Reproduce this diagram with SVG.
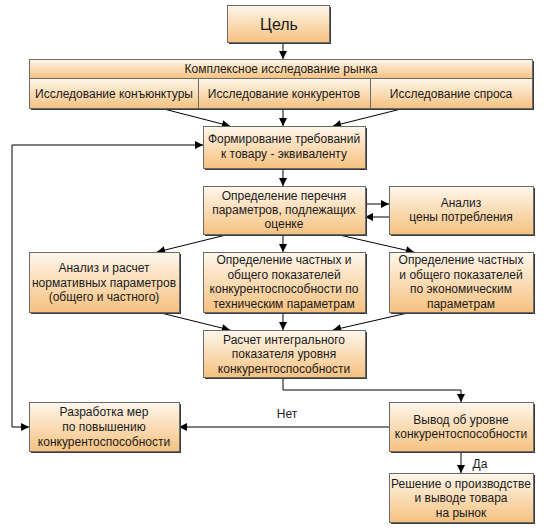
<svg xmlns="http://www.w3.org/2000/svg" width="546" height="530" viewBox="0 0 546 530">
<defs>
<linearGradient id="g" x1="0" y1="0" x2="0" y2="1">
<stop offset="0" stop-color="#fef7ec"/>
<stop offset="1" stop-color="#f6c17f"/>
</linearGradient>
<marker id="a" viewBox="0 0 10 10" refX="10" refY="5" markerWidth="10" markerHeight="8" markerUnits="userSpaceOnUse" orient="auto-start-reverse">
<path d="M0,0 L10,5 L0,10 Z" fill="#000"/>
</marker>
<style>
.sh{fill:#3a3a3a}
.bx{fill:url(#g);stroke:#6a6a6a;stroke-width:1}
text{font-family:"Liberation Sans",Arial,sans-serif;font-size:12px;fill:#1a1a1a;text-anchor:middle}
.c{fill:none;stroke:#000;stroke-width:1}
.ar{marker-end:url(#a)}
</style>
</defs>
<rect width="546" height="530" fill="#fff"/>

<g id="connectors">
<path class="c ar" d="M283,43 V59"/>
<path class="c ar" d="M283,108 V126"/>
<path class="c ar" d="M160,108 L230,126"/>
<path class="c ar" d="M405,108 L333,126"/>
<path class="c ar" d="M283,168 V186"/>
<path class="c ar" d="M365,204 H389"/>
<path class="c ar" d="M389,217 H365"/>
<path class="c ar" d="M283,234 V252"/>
<path class="c ar" d="M230,234 L157,252"/>
<path class="c ar" d="M335,234 L414,252"/>
<path class="c ar" d="M157,312 L230,330"/>
<path class="c ar" d="M283,312 V330"/>
<path class="c ar" d="M412,312 L333,330"/>
<path class="c ar" d="M283,377 V390 H461 V402"/>
<path class="c ar" d="M389,427 H179"/>
<path class="c ar" d="M461,451 V473"/>
<path class="c ar" d="M203,145 H12 V427 H29" style="marker-start:url(#a)"/>
<text x="287" y="418">Нет</text>
<text x="480" y="468">Да</text>
</g>

<g id="goal">
<rect class="sh" x="229" y="7" width="102" height="37"/>
<rect class="bx" x="227.5" y="5.5" width="102" height="37"/>
<text x="279" y="30" style="font-size:16px">Цель</text>
</g>

<g id="market">
<rect class="sh" x="31" y="61" width="503" height="49"/>
<rect class="bx" x="29.5" y="59.5" width="503" height="19"/>
<rect class="bx" x="29.5" y="78.5" width="169" height="30"/>
<rect class="bx" x="198.5" y="78.5" width="172" height="30"/>
<rect class="bx" x="370.5" y="78.5" width="162" height="30"/>
<text x="281" y="73">Комплексное исследование рынка</text>
<text x="114" y="98">Исследование конъюнктуры</text>
<text x="284" y="98">Исследование конкурентов</text>
<text x="451" y="98">Исследование спроса</text>
</g>

<g id="requirements">
<rect class="sh" x="205" y="128" width="162" height="42"/>
<rect class="bx" x="203.5" y="126.5" width="162" height="42"/>
<text x="284" y="143">Формирование требований</text>
<text x="284" y="158">к товару - эквиваленту</text>
</g>

<g id="params">
<rect class="sh" x="205" y="188" width="162" height="48"/>
<rect class="bx" x="203.5" y="186.5" width="162" height="48"/>
<text x="284" y="200">Определение перечня</text>
<text x="284" y="214">параметров, подлежащих</text>
<text x="284" y="228">оценке</text>
</g>

<g id="price">
<rect class="sh" x="391" y="188" width="144" height="48"/>
<rect class="bx" x="389.5" y="186.5" width="144" height="48"/>
<text x="461" y="207">Анализ</text>
<text x="461" y="221">цены потребления</text>
</g>

<g id="normative">
<rect class="sh" x="31" y="254" width="150" height="60"/>
<rect class="bx" x="29.5" y="252.5" width="150" height="60"/>
<text x="104" y="272">Анализ и расчет</text>
<text x="104" y="287">нормативных параметров</text>
<text x="104" y="301">(общего и частного)</text>
</g>

<g id="technical">
<rect class="sh" x="205" y="254" width="162" height="60"/>
<rect class="bx" x="203.5" y="252.5" width="162" height="60"/>
<text x="284" y="264">Определение частных и</text>
<text x="284" y="279">общего показателей</text>
<text x="284" y="293">конкурентоспособности по</text>
<text x="284" y="308">техническим параметрам</text>
</g>

<g id="economic">
<rect class="sh" x="391" y="254" width="144" height="60"/>
<rect class="bx" x="389.5" y="252.5" width="144" height="60"/>
<text x="461" y="264">Определение частных</text>
<text x="461" y="279">и общего показателей</text>
<text x="461" y="293">по экономическим</text>
<text x="461" y="308">параметрам</text>
</g>

<g id="integral">
<rect class="sh" x="205" y="332" width="162" height="47"/>
<rect class="bx" x="203.5" y="330.5" width="162" height="47"/>
<text x="284" y="344">Расчет интегрального</text>
<text x="284" y="358">показателя уровня</text>
<text x="284" y="373">конкурентоспособности</text>
</g>

<g id="measures">
<rect class="sh" x="31" y="404" width="150" height="49"/>
<rect class="bx" x="29.5" y="402.5" width="150" height="49"/>
<text x="104" y="416">Разработка мер</text>
<text x="104" y="431">по повышению</text>
<text x="104" y="446">конкурентоспособности</text>
</g>

<g id="conclusion">
<rect class="sh" x="391" y="404" width="144" height="49"/>
<rect class="bx" x="389.5" y="402.5" width="144" height="49"/>
<text x="461" y="424">Вывод об уровне</text>
<text x="461" y="438">конкурентоспособности</text>
</g>

<g id="decision">
<rect class="sh" x="391" y="475" width="144" height="49"/>
<rect class="bx" x="389.5" y="473.5" width="144" height="49"/>
<text x="461" y="488">Решение о производстве</text>
<text x="461" y="502">и выводе товара</text>
<text x="461" y="517">на рынок</text>
</g>
</svg>
